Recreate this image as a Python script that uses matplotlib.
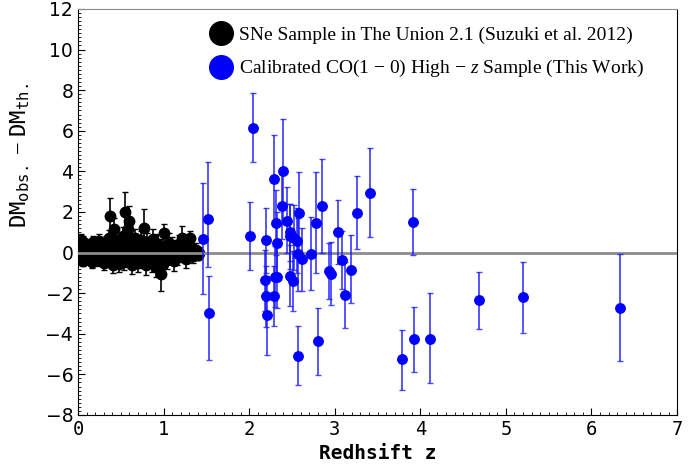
import matplotlib
matplotlib.use('Agg')
import matplotlib.pyplot as plt
from matplotlib.lines import Line2D
from matplotlib.ticker import MultipleLocator

plt.rcParams['mathtext.fontset'] = 'custom'
plt.rcParams['mathtext.rm'] = 'Liberation Serif'
plt.rcParams['mathtext.it'] = 'Liberation Serif:italic'
plt.rcParams['mathtext.tt'] = 'DejaVu Sans Mono'

# Union 2.1 SNe (redshift, residual, error)
sne_z = [0.015, 0.02, 0.025, 0.03, 0.035, 0.04, 0.045, 0.05, 0.055, 0.06, 0.07, 0.075, 0.08, 0.09, 0.10,
         0.12, 0.13, 0.15, 0.16, 0.18, 0.19, 0.21, 0.22, 0.24, 0.25, 0.27, 0.28, 0.30, 0.31,
         0.33, 0.35, 0.36, 0.38, 0.375, 0.40, 0.41, 0.425, 0.43, 0.44, 0.45, 0.47, 0.48, 0.50, 0.51,
         0.53, 0.54, 0.554, 0.56, 0.58, 0.59, 0.60, 0.61, 0.63, 0.64, 0.66, 0.67, 0.69, 0.70,
         0.72, 0.73, 0.75, 0.77, 0.78, 0.80, 0.81, 0.83, 0.85, 0.86, 0.88, 0.90, 0.91, 0.93, 0.95,
         0.968, 0.97, 0.99, 1.01,
         1.02, 1.04, 1.06, 1.08, 1.10, 1.12, 1.14, 1.16, 1.18, 1.21, 1.22, 1.24, 1.26, 1.28, 1.31,
         1.32, 1.34, 1.36, 1.38, 1.40, 1.414]
sne_dm = [0.45, -0.25, 0.15, 0.6, -0.35, 0.05, 0.3, -0.15, 0.5, -0.4, 0.2, -0.05, 0.4, -0.3, 0.1,
          0.35, -0.2, 0.15, -0.45, 0.5, -0.1, 0.25, -0.35, 0.05, 0.55, -0.25, 0.3, -0.5, 0.1,
          0.45, -0.3, 0.7, -0.1, 1.78, 0.3, -0.6, 1.18, 0.05, 0.6, -0.35, 0.25, -0.55, 0.5, -0.15,
          0.8, -0.45, 1.98, 0.15, 1.15, 1.56, -0.3, 0.55, -0.6, 0.2, 0.7, -0.2, 0.35, -0.5,
          0.1, 0.6, -0.35, 1.23, 0.3, -0.6, 0.5, -0.1, 0.25, -0.45, 0.65, 0.0, -0.7, 0.4, -0.3,
          -1.07, 0.2, -0.55, 0.94,
          0.1, -0.35, 0.45, -0.1, 0.3, -0.4, 0.15, -0.2, 0.4, 0.74, -0.05, 0.25, -0.3, 0.1, 0.72,
          0.2, -0.15, 0.05, 0.15, -0.1, 0.0]
sne_err = [0.35, 0.3, 0.3, 0.3, 0.25, 0.25, 0.25, 0.25, 0.3, 0.25, 0.25, 0.25, 0.25, 0.25, 0.25,
           0.25, 0.25, 0.3, 0.3, 0.3, 0.25, 0.3, 0.3, 0.3, 0.35, 0.3, 0.3, 0.35, 0.3,
           0.35, 0.35, 0.4, 0.3, 0.9, 0.35, 0.4, 0.5, 0.3, 0.4, 0.35, 0.35, 0.4, 0.4, 0.35,
           0.45, 0.4, 1.0, 0.35, 0.55, 0.74, 0.4, 0.4, 0.45, 0.4, 0.45, 0.4, 0.4, 0.45,
           0.4, 0.45, 0.4, 0.9, 0.45, 0.5, 0.45, 0.4, 0.45, 0.5, 0.5, 0.45, 0.5, 0.5, 0.5,
           0.8, 0.45, 0.5, 0.46,
           0.4, 0.45, 0.5, 0.45, 0.45, 0.5, 0.45, 0.4, 0.45, 0.55, 0.4, 0.4, 0.45, 0.35, 0.35,
           0.3, 0.35, 0.3, 0.3, 0.25, 0.25]

# calibrated CO(1-0) high-z sample
co_z = [1.456, 1.52, 1.53, 2.006, 2.05, 2.20, 2.19, 2.20, 2.21, 2.295, 2.31, 2.32, 2.29, 2.30, 2.33,
        2.38, 2.40, 2.44, 2.48, 2.48, 2.52, 2.56, 2.58, 2.575, 2.62, 2.48, 2.51, 2.565, 2.72, 2.78,
        2.85, 2.80, 2.93, 2.96, 3.04, 3.08, 3.12, 3.19, 3.26, 3.41, 3.79, 3.91, 3.93, 4.11, 4.69,
        5.20, 6.33]
co_dm = [0.69, 1.66, -2.98, 0.80, 6.15, 0.61, -1.37, -2.16, -3.10, 3.62, 1.48, 0.49, -2.14, -1.18, -1.22,
         2.29, 4.00, 1.56, 0.99, 0.80, 0.74, 0.57, 1.97, -0.08, -0.33, -1.15, -1.40, -5.09, -0.05, 1.48,
         2.29, -4.38, -0.92, -1.04, 0.99, -0.38, -2.09, -0.84, 1.97, 2.94, -5.26, 1.51, -4.28, -4.25, -2.36,
         -2.21, -2.72]
co_err_lo = [2.71, 2.35, 2.29, 1.67, 1.71, 1.6, 1.5, 1.5, 1.95, 2.2, 1.6, 1.5, 1.5, 1.5, 1.5,
             1.6, 2.58, 1.6, 1.4, 1.6, 1.6, 1.6, 2.0, 1.8, 1.57, 1.5, 1.5, 1.45, 1.8, 2.5,
             2.32, 1.66, 1.39, 1.55, 1.57, 1.4, 1.61, 1.66, 1.81, 2.19, 1.52, 1.64, 1.6, 2.2, 1.41,
             1.76, 2.6]
co_err_hi = [2.73, 2.81, 1.83, 1.68, 1.70, 1.59, 1.5, 1.5, 1.95, 2.19, 1.6, 1.5, 1.5, 1.5, 1.5,
             1.6, 2.58, 1.65, 1.4, 1.6, 1.6, 1.6, 2.0, 1.8, 1.53, 1.5, 1.5, 1.45, 1.78, 2.5,
             2.3, 1.63, 1.41, 1.56, 1.58, 1.43, 1.6, 1.68, 1.78, 2.2, 1.46, 1.63, 1.59, 2.24, 1.4,
             1.76, 2.64]

fig = plt.figure(figsize=(6.93, 4.71), dpi=100)
ax = fig.add_axes([0.1126, 0.119, 0.8644, 0.862])

ax.errorbar(sne_z, sne_dm, yerr=sne_err, fmt='o', color='black', ms=7.5,
            ecolor='black', elinewidth=1.2, capsize=2, zorder=2)
ax.axhline(0, color='0.55', lw=2.0, zorder=3)
ax.errorbar(co_z, co_dm, yerr=[co_err_lo, co_err_hi], fmt='o', color='#0000ff', ms=6.8,
            ecolor=(0.1, 0.1, 1.0, 0.8), elinewidth=1.3, capsize=2.2, zorder=4)

ax.set_xlim(0, 7)
ax.set_ylim(-8, 12)
ax.xaxis.set_major_locator(MultipleLocator(1))
ax.xaxis.set_minor_locator(MultipleLocator(0.1))
ax.yaxis.set_major_locator(MultipleLocator(2))
ax.yaxis.set_minor_locator(MultipleLocator(0.2))
ax.tick_params(which='both', direction='in', top=False, right=False, labelsize=13.5)
ax.tick_params(which='major', length=5, width=0.8)
ax.tick_params(which='minor', length=2.5, width=0.6)
ax.spines['top'].set_color('0.55')
for lbl in ax.get_xticklabels():
    lbl.set_family('DejaVu Sans Mono')

ax.set_xlabel('Redhsift z', family='DejaVu Sans Mono', fontsize=14, weight='bold')
ax.set_ylabel(r'$\mathtt{DM}_{\mathtt{obs.}}\,-\,\mathtt{DM}_{\mathtt{th.}}$', fontsize=16)
ax.yaxis.set_label_coords(-0.078, 0.64)

handles = [Line2D([], [], marker='o', ls='', color='black', ms=17),
           Line2D([], [], marker='o', ls='', color='#0000ff', ms=17)]
labels = ['SNe Sample in The Union 2.1 (Suzuki et al. 2012)',
          'Calibrated CO(1 \u2212 0) High \u2212 $z$ Sample (This Work)']
ax.legend(handles, labels, loc='upper left', bbox_to_anchor=(0.2, 0.977), frameon=False,
          prop={'family': 'Liberation Serif', 'size': 14}, handletextpad=0.1,
          labelspacing=0.75, borderaxespad=0, handlelength=1.6)

fig.savefig('out.png', dpi=100)
